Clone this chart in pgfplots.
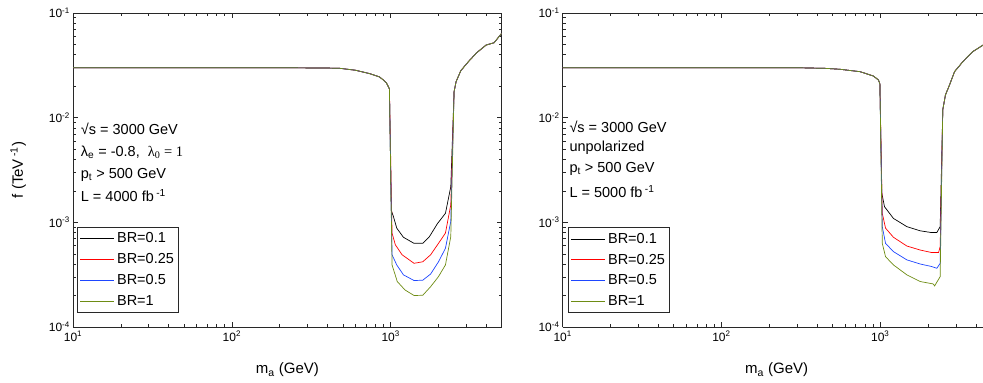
\documentclass[border=0pt]{standalone}
\usepackage{fontspec}
\setmainfont{Liberation Sans}
\newfontfamily\seriffont{Liberation Serif}
\usepackage{pgfplots}
\pgfplotsset{compat=1.18}
\definecolor{brblack}{RGB}{0,0,0}
\definecolor{brred}{RGB}{255,0,0}
\definecolor{brblue}{RGB}{30,70,255}
\definecolor{brolive}{RGB}{110,140,20}
\definecolor{axgray}{RGB}{40,40,40}
\pgfplotsset{
  legend image code/.code={\draw[#1, line width=0.9pt] (0pt,0pt) -- (34pt,0pt);},
}
\pgfplotsset{
 every axis/.append style={
  scale only axis, height=314pt,
  xmin=10, ymin=1e-4, ymax=1e-1,
  xtick={10,100,1000},
  xticklabels={10\textsuperscript{1},10\textsuperscript{2},10\textsuperscript{3}},
  ytick={1e-4,1e-3,1e-2,1e-1},
  yticklabels={10\textsuperscript{-4},10\textsuperscript{-3},10\textsuperscript{-2},10\textsuperscript{-1}},
  minor xtick={20,30,40,50,60,70,80,90,200,300,400,500,600,700,800,900,2000,3000,4000,5000},
  minor ytick={2e-4,3e-4,4e-4,5e-4,6e-4,7e-4,8e-4,9e-4,2e-3,3e-3,4e-3,5e-3,6e-3,7e-3,8e-3,9e-3,2e-2,3e-2,4e-2,5e-2,6e-2,7e-2,8e-2,9e-2},
  tick align=inside,
  major tick length=5pt, minor tick length=3pt,
  tick label style={font=\fontsize{12}{14}\selectfont},
  xticklabel style={inner ysep=1pt, yshift=-3pt},
  yticklabel style={inner ysep=0.5pt, inner xsep=3pt},
  xlabel={m\textsubscript{a} (GeV)},
  axis line style={axgray, line width=0.8pt},
  every tick/.style={axgray, line width=0.6pt},
  legend style={anchor=north west, draw=axgray, line width=0.8pt,
    font=\fontsize{14.5}{17}\selectfont, inner xsep=2pt, inner ysep=1pt,
    nodes={inner xsep=2.5pt, inner ysep=4.6pt}},
  legend cell align=left,
 },
 every axis plot/.append style={line width=0.7pt},
}
\begin{document}
\begin{tikzpicture}[x=1pt,y=1pt]
\useasboundingbox (0,0) rectangle (983,383);
% ---------------- left panel ----------------
\begin{loglogaxis}[at={(73pt,56pt)}, anchor=south west, width=428.7pt, xmax=5000,
  ylabel={f (TeV\,\textsuperscript{-1})},
  every axis y label/.style={at={(axis description cs:-0.128,0.5)}, rotate=90, anchor=center, font=\fontsize{15}{18}\selectfont},
  every axis x label/.style={at={(axis description cs:0.5,-0.137)}, anchor=center, font=\fontsize{15}{18}\selectfont},
  legend style={at={(0.010,0.319)}}]
\addplot[brblack] coordinates {(10,0.0300) (200,0.0300) (400,0.0298) (480,0.0296) (600,0.0284) (741,0.0263) (850,0.0245) (899,0.0229) (940,0.0215) (968,0.0197) (982,0.0188)
 (1008,1.30e-3) (1040,1.14e-3) (1092,8.8e-4) (1203,7.2e-4) (1403,6.3e-4) (1592,6.3e-4) (1754,7.3e-4) (1968,9.7e-4) (2212,1.22e-3) (2390,2.19e-3)
 (2507,0.0177) (2582,0.0221) (2763,0.0281) (3085,0.0343) (3483,0.0418) (3988,0.0494) (4478,0.0520) (5000,0.0640)};
\addlegendentry{BR=0.1}
\addplot[brred] coordinates {(10,0.0300) (200,0.0300) (400,0.0298) (480,0.0296) (600,0.0284) (741,0.0263) (850,0.0245) (899,0.0229) (940,0.0215) (968,0.0197) (982,0.0188)
 (1020,7.9e-4) (1070,6.1e-4) (1180,4.9e-4) (1403,4.06e-4) (1592,4.2e-4) (1785,4.9e-4) (2000,6.3e-4) (2212,7.9e-4) (2390,1.47e-3)
 (2507,0.0177) (2582,0.0221) (2763,0.0281) (3085,0.0343) (3483,0.0418) (3988,0.0494) (4478,0.0520) (5000,0.0640)};
\addlegendentry{BR=0.25}
\addplot[brblue] coordinates {(10,0.0300) (200,0.0300) (400,0.0298) (480,0.0296) (600,0.0284) (741,0.0263) (850,0.0245) (899,0.0229) (940,0.0215) (968,0.0197) (982,0.0188)
 (1020,4.9e-4) (1092,3.92e-4) (1203,3.15e-4) (1403,2.78e-4) (1592,2.8e-4) (1785,3.21e-4) (2000,4.2e-4) (2212,5.65e-4) (2390,1.02e-3)
 (2507,0.0177) (2582,0.0221) (2763,0.0281) (3085,0.0343) (3483,0.0418) (3988,0.0494) (4478,0.0520) (5000,0.0640)};
\addlegendentry{BR=0.5}
\addplot[brolive] coordinates {(10,0.0300) (200,0.0300) (400,0.0298) (480,0.0296) (600,0.0284) (741,0.0263) (850,0.0245) (899,0.0229) (940,0.0215) (968,0.0197) (982,0.0188)
 (1020,3.92e-4) (1100,2.72e-4) (1230,2.26e-4) (1403,2.0e-4) (1592,2.01e-4) (1785,2.43e-4) (2000,3.03e-4) (2212,3.92e-4) (2390,7.3e-4)
 (2507,0.0177) (2582,0.0221) (2763,0.0281) (3085,0.0343) (3483,0.0418) (3988,0.0494) (4478,0.0520) (5000,0.0640)};
\addlegendentry{BR=1}
\end{loglogaxis}
% ---------------- right panel ----------------
\begin{loglogaxis}[at={(562.7pt,56pt)}, anchor=south west, width=420.3pt, xmax=4439,
  axis x line*=box, axis y line*=left,
  every axis x label/.style={at={(axis description cs:0.509,-0.137)}, anchor=center, font=\fontsize{15}{18}\selectfont},
  legend style={at={(0.0133,0.318)}}]
\addplot[brblack] coordinates {(10,0.0300) (300,0.0300) (450,0.0296) (558,0.0290) (747,0.0275) (906,0.0250) (975,0.0229) (995,0.0210)
 (1023,1.9e-3) (1064,1.41e-3) (1211,1.09e-3) (1471,9.1e-4) (1784,8.3e-4) (2113,7.98e-4) (2273,8.0e-4) (2385,9.1e-4)
 (2477,0.0119) (2575,0.0165) (2731,0.0205) (2937,0.0275) (3315,0.0343) (3831,0.0428) (4446,0.0494) (5000,0.0540)};
\addlegendentry{BR=0.1}
\addplot[brred] coordinates {(10,0.0300) (300,0.0300) (450,0.0296) (558,0.0290) (747,0.0275) (906,0.0250) (975,0.0229) (995,0.0210)
 (1030,1.22e-3) (1080,8.8e-4) (1211,7.2e-4) (1471,5.94e-4) (1784,5.44e-4) (2113,5.14e-4) (2330,5.14e-4) (2385,5.87e-4)
 (2477,0.0119) (2575,0.0165) (2731,0.0205) (2937,0.0275) (3315,0.0343) (3831,0.0428) (4446,0.0494) (5000,0.0540)};
\addlegendentry{BR=0.25}
\addplot[brblue] coordinates {(10,0.0300) (300,0.0300) (450,0.0296) (558,0.0290) (747,0.0275) (906,0.0250) (975,0.0229) (995,0.0210)
 (1030,9.1e-4) (1080,6.3e-4) (1211,5.25e-4) (1471,4.38e-4) (1784,4.0e-4) (2113,3.78e-4) (2273,3.64e-4) (2385,4.06e-4)
 (2477,0.0119) (2575,0.0165) (2731,0.0205) (2937,0.0275) (3315,0.0343) (3831,0.0428) (4446,0.0494) (5000,0.0540)};
\addlegendentry{BR=0.5}
\addplot[brolive] coordinates {(10,0.0300) (300,0.0300) (450,0.0296) (558,0.0290) (747,0.0275) (906,0.0250) (975,0.0229) (995,0.0210)
 (1030,6.3e-4) (1080,4.7e-4) (1211,3.92e-4) (1471,3.15e-4) (1784,2.72e-4) (2155,2.58e-4) (2200,2.47e-4) (2385,3.03e-4)
 (2477,0.0119) (2575,0.0165) (2731,0.0205) (2937,0.0275) (3315,0.0343) (3831,0.0428) (4446,0.0494) (5000,0.0540)};
\addlegendentry{BR=1}
\end{loglogaxis}
% ---------------- annotations ----------------
\begin{scope}[every node/.style={anchor=base west, inner sep=0pt, font=\fontsize{14.5}{17}\selectfont}]
\node at (80.7,248.7) {√s = 3000 GeV};
\node at (80.7,226.3) {λ\textsubscript{e} = -0.8,\ \ {\seriffont λ\textsubscript{0} = 1}};
\node at (80.7,204.7) {p\textsubscript{t} > 500 GeV};
\node at (80.7,181.3) {L = 4000 fb\,\textsuperscript{-1}};
\node at (569.3,250.3) {√s = 3000 GeV};
\node at (569.3,231.3) {unpolarized};
\node at (569.3,210.3) {p\textsubscript{t} > 500 GeV};
\node at (569.3,185.7) {L = 5000 fb\,\textsuperscript{-1}};
\end{scope}
\end{tikzpicture}
\end{document}
